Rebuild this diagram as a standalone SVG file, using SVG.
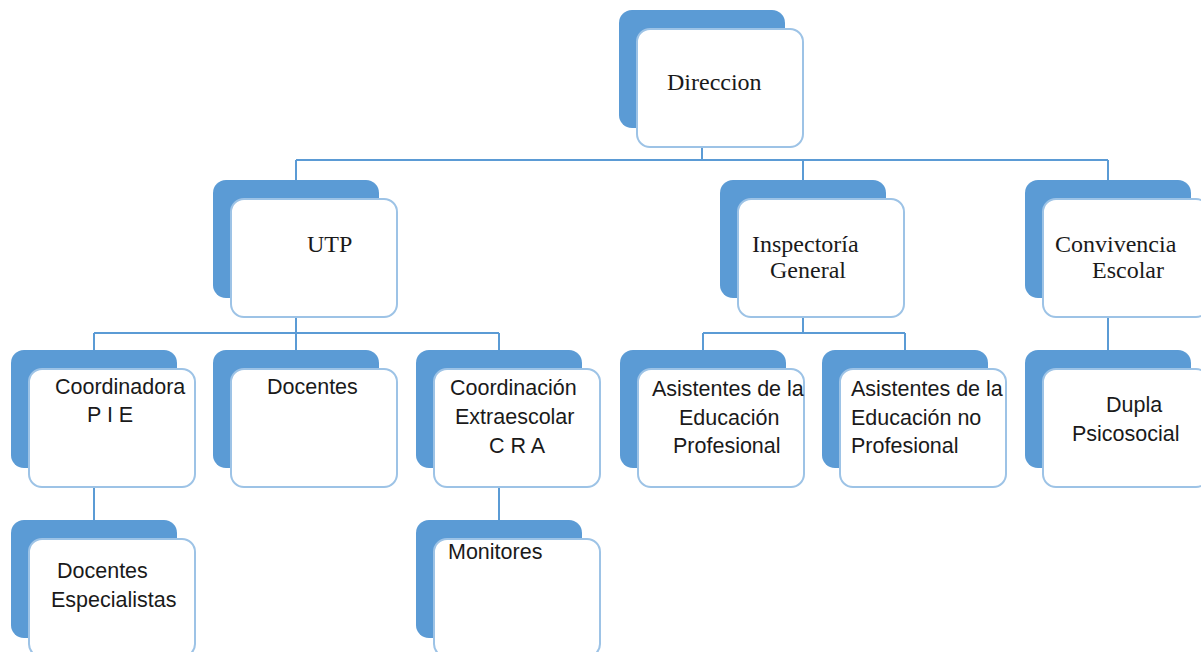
<svg xmlns="http://www.w3.org/2000/svg" width="1201" height="652" viewBox="0 0 1201 652">
<style>
.back{fill:#5B9BD5;}
.front{fill:#FFFFFF;stroke:#9DC3E6;stroke-width:2;}
.con{fill:none;stroke:#5B9BD5;stroke-width:2;}
.serif{font-family:"Liberation Serif","Times New Roman",serif;font-size:24px;fill:#1a1a1a;}
.sans{font-family:"Liberation Sans",Arial,sans-serif;font-size:21.5px;fill:#1a1a1a;}
</style>
<defs>
<rect id="b" class="back" x="0" y="0" width="166" height="118" rx="13"/>
<rect id="f" class="front" x="18" y="19" width="166" height="118" rx="13"/>
</defs>
<rect width="1201" height="652" fill="#FFFFFF"/>
<g id="connectors">
<path class="con" d="M702,147 V160 M296,160 H1108 M296,160 V180 M803,160 V180 M1108,160 V180"/>
<path class="con" d="M296,317 V350 M94,333 H499 M94,333 V350 M499,333 V350"/>
<path class="con" d="M803,317 V333 M703,333 H905 M703,333 V350 M905,333 V350"/>
<path class="con" d="M1108,317 V350"/>
<path class="con" d="M94,487 V520 M499,487 V520"/>
</g>
<g id="direccion" transform="translate(619,10)"><use href="#b"/><use href="#f"/>
<text class="serif" x="48" y="80">Direccion</text></g>
<g id="utp" transform="translate(213,180)"><use href="#b"/><use href="#f"/>
<text class="serif" x="94" y="72">UTP</text></g>
<g id="inspectoria" transform="translate(720,180)"><use href="#b"/><use href="#f"/>
<text class="serif" x="32" y="72">Inspectoría</text>
<text class="serif" x="50" y="98">General</text></g>
<g id="convivencia" transform="translate(1025,180)"><use href="#b"/><use href="#f"/>
<text class="serif" x="30" y="72">Convivencia</text>
<text class="serif" x="67" y="98">Escolar</text></g>
<g id="coordinadora" transform="translate(11,350)"><use href="#b"/><use href="#f"/>
<text class="sans" x="44" y="44">Coordinadora</text>
<text class="sans" x="76" y="72">P I E</text></g>
<g id="docentes" transform="translate(213,350)"><use href="#b"/><use href="#f"/>
<text class="sans" x="54" y="44">Docentes</text></g>
<g id="coordinacion" transform="translate(416,350)"><use href="#b"/><use href="#f"/>
<text class="sans" x="34" y="45">Coordinación</text>
<text class="sans" x="39" y="74">Extraescolar</text>
<text class="sans" x="73" y="103">C R A</text></g>
<g id="asistentes-prof" transform="translate(620,350)"><use href="#b"/><use href="#f"/>
<text class="sans" x="32" y="46">Asistentes de la</text>
<text class="sans" x="59" y="75">Educación</text>
<text class="sans" x="53" y="103">Profesional</text></g>
<g id="asistentes-noprof" transform="translate(822,350)"><use href="#b"/><use href="#f"/>
<text class="sans" x="29" y="46">Asistentes de la</text>
<text class="sans" x="29" y="75">Educación no</text>
<text class="sans" x="29" y="103">Profesional</text></g>
<g id="dupla" transform="translate(1025,350)"><use href="#b"/><use href="#f"/>
<text class="sans" x="81" y="62">Dupla</text>
<text class="sans" x="47" y="91">Psicosocial</text></g>
<g id="docentes-esp" transform="translate(11,520)"><use href="#b"/><use href="#f"/>
<text class="sans" x="46" y="58">Docentes</text>
<text class="sans" x="40" y="87">Especialistas</text></g>
<g id="monitores" transform="translate(416,520)"><use href="#b"/><use href="#f"/>
<text class="sans" x="32" y="39">Monitores</text></g>
</svg>
